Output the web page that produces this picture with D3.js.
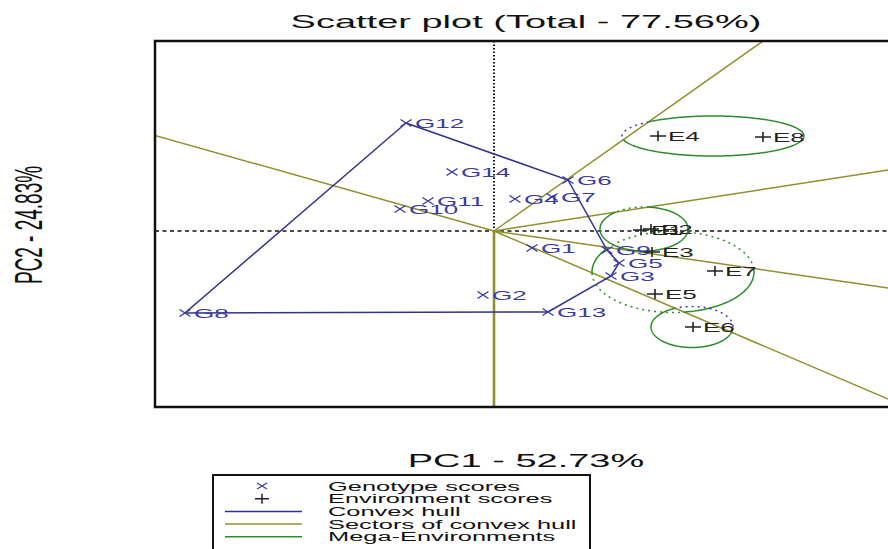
<!DOCTYPE html>
<html>
<head>
<meta charset="utf-8">
<script src="https://cdn.jsdelivr.net/npm/d3@7"></script>
<style>
  body { margin: 0; background: #fff; }
  svg { display: block; }
  text { font-family: "Liberation Sans", Arial, sans-serif; }
</style>
</head>
<body>
<svg id="chart" width="888" height="549"></svg>
<script>
// genotype scores (PC1, PC2)
var genotypes = ["G1", "G2", "G3", "G4", "G5", "G6", "G7", "G8", "G9", "G10", "G11", "G12", "G13", "G14"];
var genoPC1 = [0.38, -0.11, 1.17, 0.21, 1.25, 0.74, 0.58, -3.09, 1.13, -0.94, -0.66, -0.88, 0.54, -0.42];
var genoPC2 = [-0.34, -1.28, -0.90, 0.64, -0.64, 1.02, 0.68, -1.64, -0.38, 0.44, 0.60, 2.16, -1.62, 1.18];

// environment scores (PC1, PC2)
var environments = ["E1", "E2", "E3", "E4", "E5", "E6", "E7", "E8"];
var envPC1 = [1.47, 1.57, 1.58, 1.64, 1.61, 1.99, 2.21, 2.69];
var envPC2 = [0.02, 0.04, -0.42, 1.90, -1.26, -1.92, -0.80, 1.88];

// convex hull vertices, in drawing order
var hullOrder = ["G12", "G6", "G9", "G5", "G3", "G13", "G8"];

// sector boundary rays from the origin (PC1, PC2 direction)
var rayPC1 = [2.69, 3.94, 3.94, 3.94, 0, -3.37];
var rayPC2 = [3.80, 1.22, -1.14, -3.36, -3.52, 1.90];

// mega-environment ellipses
var meCenterPC1 = [2.19, 1.50, 1.79, 1.98];
var meCenterPC2 = [1.90, 0.04, -0.82, -1.92];
var meRadPC1 = [0.91, 0.44, 0.81, 0.41];
var meRadPC2 = [0.40, 0.44, 0.81, 0.41];
var meOutsideColor = ["#3b3bd0", "#2e8b2e", "#2e8b2e", "#3b3bd0"];

var COL_HULL = "#32328c";
var COL_SECTOR = "#8f8f2c";
var COL_MEGA = "#2e8b2e";
var COL_GENO = "#3a3aa0";
var COL_ENV = "#222";

var svg = d3.select("#chart");
var box = { left: 155, top: 41, right: 900, bottom: 407 };

var x = d3.scaleLinear().domain([-3.39, 4.06]).range([box.left, box.right]);
var y = d3.scaleLinear().domain([-3.52, 3.80]).range([box.bottom, box.top]);

// text in the reference is stretched 2x horizontally
function label(g, px, py, str, size, fill, anchor, rotate) {
    var t = "translate(" + px + "," + py + ") scale(2,1)" + (rotate ? " rotate(" + rotate + ")" : "");
    return g.append("text")
        .attr("transform", t)
        .attr("font-size", size)
        .attr("fill", fill)
        .attr("text-anchor", anchor || "start")
        .text(str);
}

svg.append("defs").append("clipPath").attr("id", "plotclip")
    .append("rect")
    .attr("x", box.left).attr("y", box.top)
    .attr("width", box.right - box.left).attr("height", box.bottom - box.top);

var plot = svg.append("g").attr("clip-path", "url(#plotclip)");

// axes through origin
plot.append("line")
    .attr("x1", x(0)).attr("x2", x(0)).attr("y1", box.top).attr("y2", box.bottom)
    .attr("stroke", "#111").attr("stroke-width", 2).attr("stroke-dasharray", "1.5,2");
plot.append("line")
    .attr("x1", box.left).attr("x2", box.right).attr("y1", y(0)).attr("y2", y(0))
    .attr("stroke", "#111").attr("stroke-width", 1.3).attr("stroke-dasharray", "4,3.5");

// sector rays
rayPC1.forEach(function (rx, i) {
    var ry = rayPC2[i];
    plot.append("line")
        .attr("x1", x(0)).attr("y1", y(0))
        .attr("x2", x(rx * 3)).attr("y2", y(ry * 3))
        .attr("stroke", COL_SECTOR)
        .attr("stroke-width", rx === 0 ? 2.6 : 1.5);
});

// convex hull
var hullPts = hullOrder.map(function (name) {
    var i = genotypes.indexOf(name);
    return [genoPC1[i], genoPC2[i]];
});
plot.append("path")
    .attr("d", d3.line().x(function (d) { return x(d[0]); }).y(function (d) { return y(d[1]); })
        .curve(d3.curveLinearClosed)(hullPts))
    .attr("fill", "none").attr("stroke", COL_HULL).attr("stroke-width", 1.5);

// mega-environments: solid inside their sector, dotted outside
var rayAngles = rayPC1.map(function (rx, i) { return Math.atan2(rayPC2[i], rx); })
    .sort(function (a, b) { return a - b; });

function sectorOf(px, py) {
    var a = Math.atan2(py, px);
    for (var i = 0; i < rayAngles.length - 1; i++) {
        if (a >= rayAngles[i] && a < rayAngles[i + 1]) return i;
    }
    return rayAngles.length - 1;
}

var lineGen = d3.line().x(function (d) { return x(d[0]); }).y(function (d) { return y(d[1]); });
meCenterPC1.forEach(function (cx, k) {
    var cy = meCenterPC2[k];
    var home = sectorOf(cx, cy);
    var N = 240;
    var pts = d3.range(N + 1).map(function (j) {
        var t = j / N * 2 * Math.PI;
        return [cx + meRadPC1[k] * Math.cos(t), cy + meRadPC2[k] * Math.sin(t)];
    });
    var runs = [];
    for (var j = 0; j < N; j++) {
        var mx = (pts[j][0] + pts[j + 1][0]) / 2, my = (pts[j][1] + pts[j + 1][1]) / 2;
        var inside = sectorOf(mx, my) === home;
        var last = runs[runs.length - 1];
        if (last && last.inside === inside) {
            last.pts.push(pts[j + 1]);
        } else {
            runs.push({ inside: inside, pts: [pts[j], pts[j + 1]] });
        }
    }
    runs.forEach(function (r) {
        plot.append("path")
            .attr("d", lineGen(r.pts))
            .attr("fill", "none")
            .attr("stroke", r.inside ? COL_MEGA : meOutsideColor[k])
            .attr("stroke-width", 1.5)
            .attr("stroke-dasharray", r.inside ? null : "2,4");
    });
});

// genotype markers and labels
var marks = svg.append("g");
genotypes.forEach(function (name, i) {
    var px = x(genoPC1[i]), py = y(genoPC2[i]);
    marks.append("path")
        .attr("d", "M" + (px - 5.5) + "," + (py - 3.5) + "L" + (px + 5.5) + "," + (py + 3.5) +
            "M" + (px - 5.5) + "," + (py + 3.5) + "L" + (px + 5.5) + "," + (py - 3.5))
        .attr("stroke", COL_GENO).attr("stroke-width", 1.4);
    label(marks, px + 9, py + 5, name, 13, COL_GENO);
});

// environment markers and labels
environments.forEach(function (name, i) {
    var px = x(envPC1[i]), py = y(envPC2[i]);
    marks.append("path")
        .attr("d", "M" + (px - 8) + "," + py + "L" + (px + 8) + "," + py +
            "M" + px + "," + (py - 5) + "L" + px + "," + (py + 5))
        .attr("stroke", COL_ENV).attr("stroke-width", 1.6);
    label(marks, px + 10, py + 5, name, 13, COL_ENV);
});

// frame
svg.append("rect")
    .attr("x", box.left).attr("y", box.top)
    .attr("width", box.right - box.left).attr("height", box.bottom - box.top)
    .attr("fill", "none").attr("stroke", "#111").attr("stroke-width", 2.5);

// titles
label(svg, 526, 28, "Scatter plot (Total - 77.56%)", 19, "#111", "middle");
label(svg, 526, 467, "PC1 - 52.73%", 19, "#111", "middle");
label(svg, 42, 225, "PC2 - 24.83%", 19, "#111", "middle", -90);

// legend
var legendItems = ["Genotype scores", "Environment scores", "Convex hull", "Sectors of convex hull", "Mega-Environments"];
var legendKinds = ["x", "+", COL_HULL, COL_SECTOR, COL_MEGA];
var lg = svg.append("g");
lg.append("rect")
    .attr("x", 213).attr("y", 475).attr("width", 377).attr("height", 90)
    .attr("fill", "#fff").attr("stroke", "#111").attr("stroke-width", 2);
legendItems.forEach(function (txt, i) {
    var cy = 486 + i * 12.7;
    var k = legendKinds[i];
    if (k === "x") {
        lg.append("path")
            .attr("d", "M257," + (cy - 3) + "L267," + (cy + 3) + "M257," + (cy + 3) + "L267," + (cy - 3))
            .attr("stroke", COL_GENO).attr("stroke-width", 1.3);
    } else if (k === "+") {
        lg.append("path")
            .attr("d", "M255," + cy + "L269," + cy + "M262," + (cy - 5) + "L262," + (cy + 5))
            .attr("stroke", COL_ENV).attr("stroke-width", 1.5);
    } else {
        lg.append("line")
            .attr("x1", 225).attr("x2", 302).attr("y1", cy).attr("y2", cy)
            .attr("stroke", k).attr("stroke-width", 1.5);
    }
    label(lg, 328, cy + 4.5, txt, 12.7, "#111");
});
</script>
</body>
</html>
